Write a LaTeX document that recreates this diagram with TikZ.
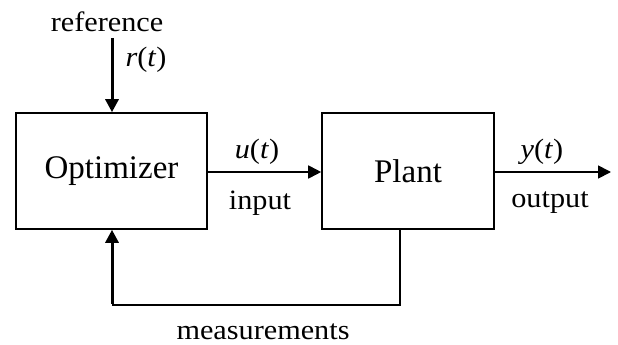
\documentclass[tikz,border=0pt]{standalone}
\usepackage{fontspec}
\setmainfont{Liberation Serif}
\newfontfamily\lblfont[FakeStretch=1.08]{Liberation Serif}
\usetikzlibrary{arrows.meta}
\begin{document}
\begin{tikzpicture}[x=1pt,y=-1pt,
  blk/.style={draw, line width=1.6pt, inner sep=0pt, font=\fontsize{33}{36}\selectfont},
  lbl/.style={inner sep=0pt, font=\lblfont\fontsize{28}{30}\selectfont},
  tip/.style={-{Triangle[length=13pt,width=13pt]}},
  sig/.style={line width=1.8pt, tip},
  heavy/.style={line width=3pt, tip},
  wire/.style={line width=1.8pt}
]
\useasboundingbox (0,0) rectangle (618,345);

% blocks
\node[blk, minimum width=191pt, minimum height=116pt] (opt) at (111.5,171) {Optimizer};
\node[blk, minimum width=172pt, minimum height=116pt] (plant) at (408,171) {Plant};

% reference input
\coordinate (refTop) at (112,38);
\node[lbl] (reflbl) at (107,22) {reference};
\node[lbl] (rt) at (146,60) {\textit{r}(\textit{t})};
\draw[heavy] (refTop) -- (refTop |- opt.north);

% control signal
\draw[sig] (opt.east |- 0,172) -- (plant.west |- 0,172);
\node[lbl] (ut) at (257,152) {\textit{u}(\textit{t})};
\node[lbl] (inp) at (260,203) {input};

% plant output
\coordinate (outEnd) at (611,172);
\draw[sig] (plant.east |- outEnd) -- (outEnd);
\node[lbl] (yt) at (542,152) {\textit{y}(\textit{t})};
\node[lbl] (outp) at (550,203) {output};

% feedback path
\coordinate (fbR) at (400,305);
\coordinate (fbL) at (112,305);
\draw[wire] (fbR |- plant.south) -- (fbR) -- (fbL);
\draw[heavy] ([yshift=1.5pt]fbL) -- (fbL |- opt.south);
\node[lbl] (meas) at (263,332) {measurements};
\end{tikzpicture}
\end{document}
